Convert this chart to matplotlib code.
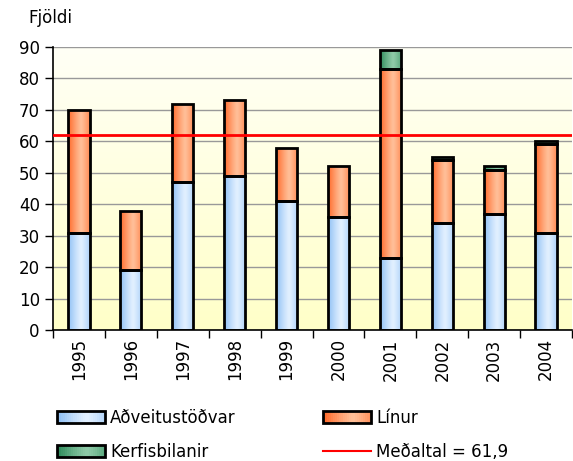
import matplotlib
matplotlib.use('Agg')
import matplotlib.pyplot as plt
import numpy as np
from matplotlib.colors import LinearSegmentedColormap
from matplotlib.legend_handler import HandlerPatch
from matplotlib.patches import Rectangle

years = ['1995', '1996', '1997', '1998', '1999', '2000', '2001', '2002', '2003', '2004']
adveitu = [31, 19, 47, 49, 41, 36, 23, 34, 37, 31]
linur = [39, 19, 25, 24, 17, 16, 60, 20, 14, 28]
kerfis = [0, 0, 0, 0, 0, 0, 6, 1, 1, 1]
medaltal = 61.9

series_names = ['Aðveitustöðvar', 'Línur', 'Kerfisbilanir']
GRADS = {
    'Aðveitustöðvar': ('#8fc0f5', '#e2f0ff'),
    'Línur': ('#ff6a2a', '#ffbf98'),
    'Kerfisbilanir': ('#2f8c5c', '#8fcaa8'),
}

plt.rcParams.update({'font.family': 'DejaVu Sans', 'font.size': 12})

fig = plt.figure(figsize=(5.73, 4.61), dpi=100)
ax = fig.add_axes([53 / 573, 1 - 330 / 461, 519 / 573, 283 / 461])

# background gradient (near white at top -> pale yellow at bottom)
bg = LinearSegmentedColormap.from_list('bg', ['#fffff6', '#ffffc8'])
ax.imshow(np.linspace(0, 1, 256).reshape(-1, 1), cmap=bg, aspect='auto',
          extent=[0, 1, 0, 1], transform=ax.transAxes, zorder=0)

t = np.linspace(0, 1, 64)
shade = 1 - np.clip(np.abs(t - 0.6) / 0.6, 0, 1) ** 1.2
grad_row = shade.reshape(1, -1)


def cmap_for(name):
    dark, light = GRADS[name]
    return LinearSegmentedColormap.from_list(name, [dark, light])


x = np.arange(len(years))
bottom = np.zeros(len(years))
for name, vals in zip(series_names, [adveitu, linur, kerfis]):
    bars = ax.bar(x, vals, width=0.41, bottom=bottom, facecolor='none',
                  edgecolor='black', linewidth=2, zorder=3)
    cm = cmap_for(name)
    for b, v in zip(bars, vals):
        if v <= 0:
            b.set_visible(False)
            continue
        im = ax.imshow(grad_row, cmap=cm, aspect='auto', zorder=2,
                       extent=[b.get_x(), b.get_x() + b.get_width(),
                               b.get_y(), b.get_y() + b.get_height()])
        im.set_clip_path(b)
    bottom += np.array(vals)

ax.axhline(medaltal, color='#ff0000', linewidth=2, zorder=4)

ax.set_xlim(-0.5, len(years) - 0.5)
ax.set_ylim(0, 90)
ax.set_yticks(range(0, 91, 10))
ax.yaxis.grid(True, color='#999999', linewidth=1)
ax.set_axisbelow(True)
ax.set_xticks(x)
ax.set_xticklabels(years, rotation=90)
ax.set_xticks(np.arange(-0.5, len(years)), minor=True)
ax.tick_params(axis='x', which='major', length=0, pad=6)
ax.tick_params(axis='x', which='minor', length=6, width=1)
ax.tick_params(axis='y', length=6, width=1)
for s in ['top', 'right']:
    ax.spines[s].set_visible(False)
ax.spines['left'].set_linewidth(1.2)
ax.spines['bottom'].set_linewidth(1.2)

fig.text(28 / 573, 1 - 18 / 461, 'Fjöldi', ha='left', va='center', fontsize=12)


class GradHandler(HandlerPatch):
    def create_artists(self, legend, orig_handle, xdescent, ydescent,
                       width, height, fontsize, trans):
        arts = []
        n = 24
        cm = cmap_for(orig_handle.get_label())
        for i in range(n):
            r = Rectangle((-xdescent + width * i / n, -ydescent), width / n + 0.3, height,
                          facecolor=cm(shade[int(i / n * 63)]), edgecolor='none',
                          transform=trans)
            arts.append(r)
        arts.append(Rectangle((-xdescent, -ydescent), width, height, facecolor='none',
                              edgecolor='black', linewidth=2, transform=trans))
        return arts


handles = [Rectangle((0, 0), 1, 1, label=n) for n in series_names]
line_h = plt.Line2D([], [], color='#ff0000', linewidth=1.5, label='Meðaltal = 61,9')
leg_handles = [handles[0], handles[2], handles[1], line_h]
leg = fig.legend(leg_handles, [h.get_label() for h in leg_handles], ncol=2,
                 loc='upper left', bbox_to_anchor=(42 / 573, 1 - 394 / 461),
                 frameon=False, handlelength=2.9, handleheight=0.7,
                 handletextpad=0.3, columnspacing=5.2, labelspacing=0.95,
                 handler_map={Rectangle: GradHandler()}, fontsize=12)

fig.savefig('out.png', dpi=100)
